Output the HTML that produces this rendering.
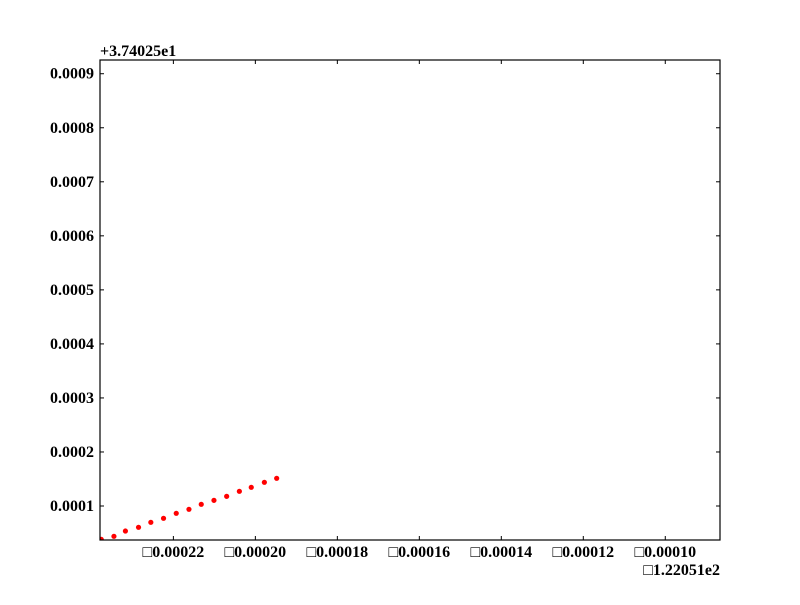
<!DOCTYPE html>
<html><head><meta charset="utf-8"><style>
html,body{margin:0;padding:0;background:#fff;}
svg text{font-family:"Liberation Serif",serif;font-weight:bold;font-size:16px;fill:#000;}
</style></head><body>
<svg id="chart" width="800" height="600" xmlns="http://www.w3.org/2000/svg">
<rect x="0" y="0" width="800" height="600" fill="#fff"/>
<g id="marks"></g>
<g id="ticks"></g>
<rect x="100" y="60" width="620" height="480" fill="none" stroke="#000" stroke-width="1.2"/>
<text x="100" y="56">+3.74025e1</text>
<text x="720" y="575" text-anchor="end">□1.22051e2</text>
</svg>
<script>
const xValues = [-0.0002376,-0.0002345,-0.0002317,-0.0002285,-0.0002255,-0.0002224,-0.0002193,-0.0002162,-0.0002132,-0.0002101,-0.0002070,-0.0002039,-0.0002010,-0.0001978,-0.0001948];
const yValues = [0.0000384,0.0000439,0.0000537,0.0000606,0.0000698,0.0000772,0.0000865,0.0000939,0.0001031,0.0001105,0.0001179,0.0001272,0.0001346,0.0001439,0.0001513];
const xTicks = [-0.00022,-0.00020,-0.00018,-0.00016,-0.00014,-0.00012,-0.00010];
const xTickLabels = ["□0.00022","□0.00020","□0.00018","□0.00016","□0.00014","□0.00012","□0.00010"];
const yTicks = [0.0001,0.0002,0.0003,0.0004,0.0005,0.0006,0.0007,0.0008,0.0009];
const yTickLabels = ["0.0001","0.0002","0.0003","0.0004","0.0005","0.0006","0.0007","0.0008","0.0009"];
const X0=100,X1=720,Y0=540,Y1=60;
const xMin=-0.0002379,xMax=-0.00008665,yMin=0.0000371,yMax=0.0009254;
function sx(v){return X0+(v-xMin)/(xMax-xMin)*(X1-X0);}
function sy(v){return Y0-(v-yMin)/(yMax-yMin)*(Y0-Y1);}
const NS="http://www.w3.org/2000/svg";
const marks=document.getElementById('marks');
const clip=document.createElementNS(NS,'clipPath');clip.setAttribute('id','pc');
const cr=document.createElementNS(NS,'rect');cr.setAttribute('x',X0);cr.setAttribute('y',Y1);cr.setAttribute('width',X1-X0);cr.setAttribute('height',Y0-Y1);
clip.appendChild(cr);document.getElementById('chart').appendChild(clip);
marks.setAttribute('clip-path','url(#pc)');
xValues.forEach((x,i)=>{
  const c=document.createElementNS(NS,'circle');
  
  
  c.setAttribute('cx',sx(x));c.setAttribute('cy',sy(yValues[i]));c.setAttribute('r',2.6);c.setAttribute('fill','#ff0000');
  marks.appendChild(c);
});
const ticks=document.getElementById('ticks');
function line(x1,y1,x2,y2){const l=document.createElementNS(NS,'line');l.setAttribute('x1',x1);l.setAttribute('y1',y1);l.setAttribute('x2',x2);l.setAttribute('y2',y2);l.setAttribute('stroke','#000');l.setAttribute('stroke-width','1');ticks.appendChild(l);}
xTicks.forEach((t,i)=>{
  const x=sx(t);line(x,Y0,x,Y0-4);line(x,Y1,x,Y1+4);
  const tx=document.createElementNS(NS,'text');
  
  
  tx.setAttribute('x',x);tx.setAttribute('y',557);tx.setAttribute('text-anchor','middle');tx.textContent=xTickLabels[i];ticks.appendChild(tx);
});
yTicks.forEach((t,i)=>{
  const y=sy(t);line(X0,y,X0+4,y);line(X1,y,X1-4,y);
  const tx=document.createElementNS(NS,'text');
  
  
  tx.setAttribute('x',94);tx.setAttribute('y',y+5);tx.setAttribute('text-anchor','end');tx.textContent=yTickLabels[i];ticks.appendChild(tx);
});
</script>
</body></html>
